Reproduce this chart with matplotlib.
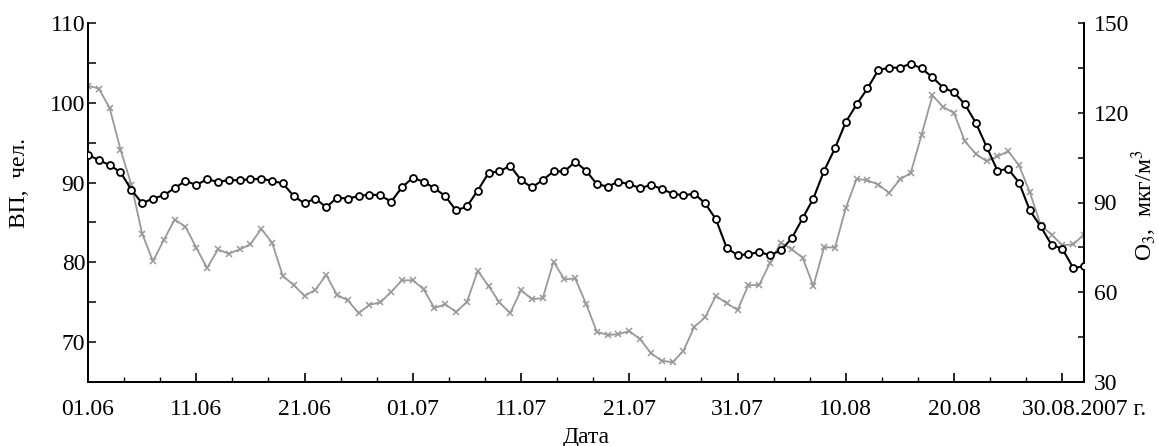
import numpy as np
import matplotlib
matplotlib.use('Agg')
import matplotlib.pyplot as plt
from matplotlib.ticker import MultipleLocator, FixedLocator
from matplotlib.transforms import ScaledTranslation

##==============================
# data
##==============================
day_labels = ['01.06', '11.06', '21.06', '01.07', '11.07', '21.07',
              '31.07', '10.08', '20.08']
last_label = '30.08.2007 г.'

# ВП, чел. (left axis)
vp = [93.5, 92.8, 92.2, 91.3, 89.1, 87.4, 88.0, 88.4, 89.3, 90.2,
      89.7, 90.4, 90.1, 90.3, 90.3, 90.4, 90.5, 90.2, 89.9, 88.3,
      87.4, 88.0, 86.9, 88.1, 88.0, 88.3, 88.5, 88.4, 87.6, 89.4,
      90.6, 90.1, 89.3, 88.3, 86.5, 87.0, 89.0, 91.2, 91.4, 92.1,
      90.3, 89.4, 90.3, 91.4, 91.4, 92.6, 91.5, 89.8, 89.5, 90.1,
      89.8, 89.3, 89.7, 89.2, 88.6, 88.4, 88.6, 87.4, 85.4, 81.8,
      80.9, 81.0, 81.3, 80.9, 81.5, 83.0, 85.5, 88.0, 91.5, 94.3,
      97.6, 99.8, 101.8, 104.1, 104.4, 104.4, 104.9, 104.3, 103.2, 101.9,
      101.3, 99.8, 97.5, 94.5, 91.5, 91.7, 90.0, 86.5, 84.5, 82.2,
      81.7, 79.3, 79.5]

# O3, мкг/м3 (right axis)
o3 = [129.0, 128.1, 121.6, 107.7, 96.0, 79.6, 70.4, 77.4, 84.3, 81.9,
      74.9, 68.1, 74.3, 72.9, 74.3, 76.0, 81.2, 76.6, 65.4, 62.4,
      58.8, 60.8, 65.8, 59.1, 57.3, 53.0, 55.8, 56.6, 60.1, 64.0,
      64.0, 61.0, 54.7, 56.0, 53.4, 56.8, 67.1, 62.1, 56.6, 53.0,
      60.7, 57.7, 58.0, 70.2, 64.3, 64.6, 56.2, 46.8, 45.7, 46.0,
      47.0, 44.3, 39.6, 37.1, 36.6, 40.4, 48.4, 51.6, 58.8, 56.3,
      54.1, 62.4, 62.4, 69.9, 76.6, 74.3, 71.6, 62.1, 75.1, 74.9,
      88.2, 97.9, 97.4, 96.0, 93.2, 97.7, 99.9, 112.7, 125.8, 121.9,
      119.9, 110.4, 106.3, 103.8, 105.4, 107.1, 102.4, 93.4, 82.4, 79.3,
      75.7, 76.0, 79.3]

days = np.arange(len(vp))

##==============================
# plot
##==============================
plt.rcParams['font.family'] = ['Liberation Serif', 'DejaVu Serif']
plt.rcParams['mathtext.fontset'] = 'stix'
fs = 17

fig = plt.figure(figsize=(11.59, 4.46), dpi=100)
ax = fig.add_axes([88 / 1159, 1 - 382 / 446, 996 / 1159, 359 / 446])
ax2 = ax.twinx()

ax2.plot(days, o3, color='#999999', lw=1.3, marker='x', ms=5, mew=1.1, zorder=2)
ax.plot(days, vp, color='black', lw=1.5, marker='o', ms=5, mfc='white',
        mec='black', mew=1.3, zorder=3)

# black series on top of the gray one
ax.set_zorder(ax2.get_zorder() + 1)
ax.patch.set_visible(False)

ax.set_xlim(0, 92)
ax.set_ylim(65, 110)
ax2.set_ylim(30, 150)

for a in (ax, ax2):
    a.spines['top'].set_visible(False)
    for s in a.spines.values():
        s.set_linewidth(1.3)

ax.xaxis.set_major_locator(FixedLocator(np.arange(0, 91, 10)))
ax.xaxis.set_minor_locator(FixedLocator(np.arange(0, 92, 10 / 3)))
ax.set_xticklabels(day_labels + [''])
ax.yaxis.set_major_locator(MultipleLocator(10))
ax.yaxis.set_minor_locator(MultipleLocator(5))
ax2.yaxis.set_major_locator(MultipleLocator(30))
ax2.yaxis.set_minor_locator(MultipleLocator(15))

xpad = 12
ax.tick_params(axis='x', which='major', direction='in', length=6.5, width=1.2,
               labelsize=fs, pad=xpad)
ax.tick_params(axis='x', which='minor', direction='in', length=3.6, width=1.0)
ax.tick_params(axis='y', which='both', direction='in', length=5.8, width=1.1,
               labelsize=fs, pad=2)
ax2.tick_params(axis='y', which='both', direction='in', length=4.3, width=1.1,
                labelsize=fs, pad=7)

# last date label sits under the right spine
off = ScaledTranslation(0, -xpad / 72, fig.dpi_scale_trans)
ax.text(92, 0, last_label, transform=ax.get_xaxis_transform() + off,
        ha='center', va='top', fontsize=fs)

fig.text(586 / 1159, 1 - 437 / 446, 'Дата', ha='center', va='center', fontsize=fs)
fig.text(20 / 1159, 1 - 183 / 446, 'ВП,  чел.', ha='center', va='center',
         rotation=90, fontsize=fs)
fig.text(1144 / 1159, 1 - 205 / 446, r'O$_3$,  мкг/м$^3$', ha='center',
         va='center', rotation=90, fontsize=fs)

plt.savefig('out.png', dpi=100)
